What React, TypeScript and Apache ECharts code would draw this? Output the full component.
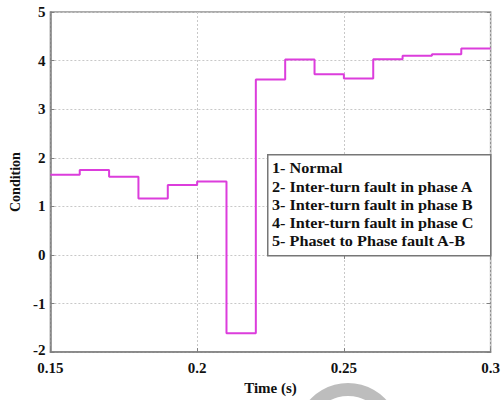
import React, { useEffect, useRef } from "react";
import * as echarts from "echarts";

const stepTimes = [0.15, 0.16, 0.17, 0.18, 0.19, 0.2, 0.21, 0.22, 0.23, 0.24, 0.25, 0.26, 0.27, 0.28, 0.29, 0.3];
const conditionValues = [1.65, 1.75, 1.61, 1.16, 1.44, 1.51, -1.61, 3.61, 4.02, 3.72, 3.63, 4.03, 4.1, 4.13, 4.25, 4.25];
const legendLines = [
  "1- Normal",
  "2- Inter-turn fault in phase A",
  "3- Inter-turn fault in phase B",
  "4- Inter-turn fault in phase C",
  "5- Phaset to Phase fault A-B",
];

const FONT = "Liberation Serif";

export default function App() {
  const ref = useRef<HTMLDivElement>(null);
  useEffect(() => {
    if (!ref.current) return;
    const chart = echarts.init(ref.current, null, { renderer: "svg" });
    const data = stepTimes.map((t, i) => [t, conditionValues[i]]);
    const gridLeft = 49, gridTop = 12, gridW = 442, gridH = 347;
    const labelStyle = { color: "#111", fontFamily: FONT, fontWeight: "bold" as const, fontSize: 15 };
    const splitLine = { show: true, lineStyle: { color: "#c8c8c8", type: [2, 2] as any, width: 1 } };
    const axisLine = { show: true, onZero: false, lineStyle: { color: "#808080", width: 1.5 } };
    const axisTick = { show: true, inside: true, length: 4, lineStyle: { color: "#808080" } };
    chart.setOption({
      animation: false,
      backgroundColor: "#fff",
      grid: {
        left: gridLeft,
        top: gridTop,
        width: gridW,
        height: gridH,
        show: true,
        borderColor: "#909090",
        borderWidth: 1.5,
        backgroundColor: "transparent",
      },
      xAxis: [
        {
          type: "value",
          min: 0.15,
          max: 0.3,
          interval: 0.05,
          name: "Time (s)",
          nameLocation: "middle",
          nameGap: 24,
          nameTextStyle: { ...labelStyle, fontSize: 15 },
          axisLine,
          axisTick,
          splitLine,
          axisLabel: { ...labelStyle, margin: 8, lineHeight: 15, formatter: (v: number) => String(+v.toFixed(2)) },
        },
        {
          type: "value",
          position: "top",
          min: 0.15,
          max: 0.3,
          interval: 0.05,
          axisLine: { show: false },
          axisTick,
          splitLine: { show: false },
          axisLabel: { show: false },
        },
      ],
      yAxis: [
        {
          type: "value",
          min: -2,
          max: 5,
          interval: 1,
          name: "Condition",
          nameLocation: "middle",
          nameGap: 23,
          nameTextStyle: { ...labelStyle, fontSize: 14 },
          axisLine,
          axisTick,
          splitLine,
          axisLabel: {
            ...labelStyle,
            margin: 5,
            lineHeight: 14,
            formatter: (v: number) => (v === -2 ? "{lo|-2}" : String(v)),
            rich: { lo: { ...labelStyle, lineHeight: 14, padding: [0, 0, 4, 0] } },
          },
        },
        {
          type: "value",
          position: "right",
          min: -2,
          max: 5,
          interval: 1,
          axisLine: { show: false },
          axisTick,
          splitLine: { show: false },
          axisLabel: { show: false },
        },
      ],
      series: [
        {
          type: "line",
          step: "end",
          data,
          showSymbol: false,
          symbol: "none",
          lineStyle: { color: "#dc3ddc", width: 2 },
          z: 3,
        },
      ],
      graphic: [
        {
          type: "rect",
          left: 267,
          top: 154,
          z: 5,
          shape: { width: 223, height: 101 },
          style: { fill: "#fff", stroke: "#777", lineWidth: 1.5 },
        },
        ...legendLines.map((s, i) => ({
          type: "text",
          x: 272,
          y: 168 + i * 18.3,
          scaleX: 1.08,
          z: 6,
          style: {
            text: s,
            fill: "#111",
            font: "bold 15px Liberation Serif",
            fontFamily: FONT,
            fontWeight: "bold",
            fontSize: 15,
            verticalAlign: "middle",
          },
        })),
        {
          type: "ring",
          shape: { cx: 348, cy: 435, r: 52, r0: 39 },
          style: { fill: "#bdbdbd" },
          z: 10,
        },
      ],
    });
    return () => chart.dispose();
  }, []);
  return <div ref={ref} style={{ width: 503, height: 400, position: "absolute", left: 0, top: 0 }} />;
}
